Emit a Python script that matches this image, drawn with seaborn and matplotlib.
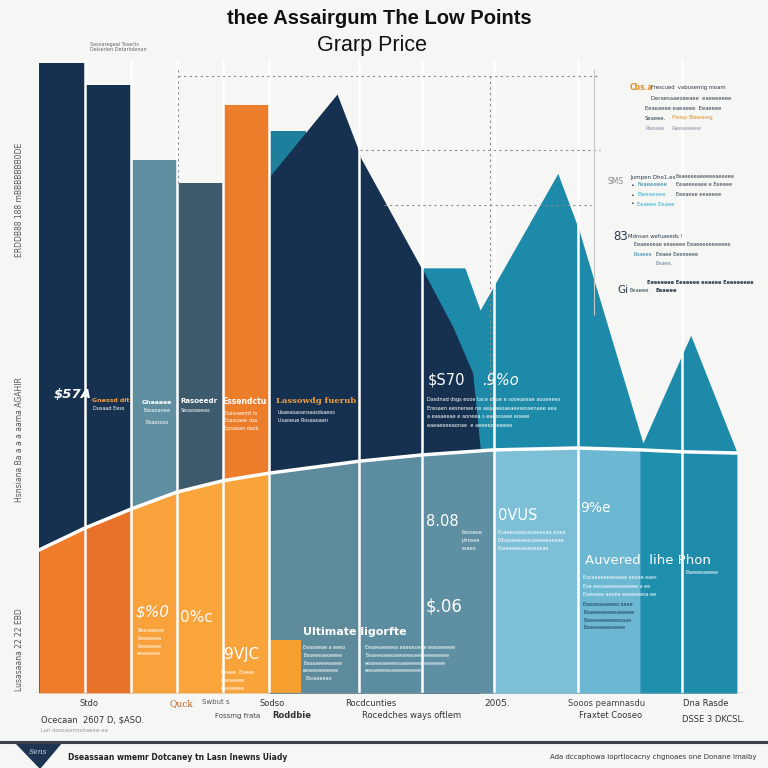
import numpy as np
import matplotlib
matplotlib.use("Agg")
import matplotlib.pyplot as plt
import seaborn as sns
from matplotlib.patches import Polygon

# ---- data ----
bar_labels = ["A", "B", "C", "D", "E"]
bar_values = [100.0, 96.5, 84.6, 81.0, 93.3]
bar_colors = ["#16314f", "#16314f", "#5f8fa0", "#3e5b6d", "#ec7d2a"]

# lower band (the curve) at the column edges
band_edges = [-0.5, 0.5, 1.5, 2.5, 3.5, 4.5, 6.46, 7.83, 9.39, 11.22, 12.57, 13.48, 14.67]
band_values = [22.7, 26.2, 29.2, 31.9, 33.7, 34.9, 36.8, 37.8, 38.6, 38.9, 38.6, 38.3, 38.1]
band_colors = ["#f07d2c", "#e8722a", "#f9a13a", "#f9a53c", "#f9a43a", "#5e8b9c",
               "#5b8c9f", "#5f8fa2", "#7cbfd6", "#6cb7d1", "#1f8fae", "#1e8bab"]
column_splits = [0.5, 1.5, 2.5, 3.5, 4.5, 6.46, 7.83, 9.39, 11.22, 13.48]

# peaks on the right
back_x = [4.5, 5.3]
back_y = [89.2, 89.2]
navy_x = [4.5, 5.98, 6.43, 6.5, 7.78, 7.85, 8.5, 8.93, 9.09]
navy_y = [81.9, 95.1, 86.5, 84.9, 67.9, 67.1, 58.1, 50.8, 39.0]
teal_x = [7.83, 8.76, 9.09, 10.78, 11.24, 12.63, 13.67, 14.67]
teal_y = [67.5, 67.5, 60.8, 82.5, 73.5, 39.7, 56.8, 38.3]

small_x = [4.5, 5.2]
small_y = [8.4, 8.4]

ref_levels = [97.9, 86.2, 77.5]

sns.set_theme(style="white")
plt.rcParams["font.family"] = ["DejaVu Sans"]

fig = plt.figure(figsize=(7.68, 7.68), dpi=100)
fig.patch.set_facecolor("#f6f6f4")
ax = fig.add_axes([35 / 768, 1 - 693 / 768, 710 / 768, 633 / 768])
ax.set_facecolor("#f6f6f4")

# back shapes
ax.fill_between(back_x, 0, back_y, color="#1d7f9b", lw=0, zorder=1)
ax.fill_between(teal_x, 0, teal_y, color="#1c8aa8", lw=0, zorder=1)
ax.fill_between(navy_x, 0, navy_y, color="#16314f", lw=0, zorder=2)

# bars
sns.barplot(x=bar_labels, y=bar_values, hue=bar_labels, palette=bar_colors,
            width=1.0, saturation=1, legend=False, ax=ax, zorder=3, linewidth=0)

# lower band
for i, c in enumerate(band_colors):
    ax.fill_between(band_edges[i:i + 2], 0, band_values[i:i + 2], color=c, lw=0, zorder=4)
ax.plot(band_edges, band_values, color="white", lw=2.5, zorder=6)
ax.fill_between(small_x, 0, small_y, color="#f7a030", lw=0, zorder=5)

for s in column_splits:
    ax.axvline(s, color="white", lw=1.8, zorder=7)

# dashed guides
dash = dict(color="#8a8a8a", lw=0.8, ls=(0, (2, 3)), zorder=8)
ax.hlines(ref_levels[0], 2.52, 11.7, **dash)
ax.hlines(ref_levels[1], 6.48, 11.7, **dash)
ax.hlines(ref_levels[2], 7.0, 11.5, **dash)
ax.vlines(2.52, 81.0, 99.0, **dash)
ax.vlines(9.3, 42.0, 98.0, **dash)
ax.vlines(11.56, 60.0, 99.0, color="#c8c8c8", lw=0.8, zorder=8)
ax.axhline(0, color="#9a9a9a", lw=1.0, zorder=8)

ax.set_xlim(-0.587, 14.85)
ax.set_ylim(0, 100.5)
ax.set_axis_off()


def t(x, y, s, **kw):
    fig.text(x / 768, 1 - y / 768, s, **kw)


# title
t(379, 18, "thee Assairgum The Low Points", ha="center", va="center",
  fontsize=14.5, fontweight="bold", color="#111111", family="Liberation Sans")
t(372, 45, "Grarp Price", ha="center", va="center",
  fontsize=15.5, color="#111111", family="Liberation Sans")
t(90, 47, "Sesoaregeal Toserts\nDelserlen Detarlolenan", fontsize=3.5, color="#666666", va="center")

# left rotated labels
t(20, 200, "ERDDB88 188 mBBBBBBB0DE", rotation=90, fontsize=5.5, color="#555555", va="center", ha="center")
t(20, 440, "Hsnsiana Ba a a a aama AGAHIR", rotation=90, fontsize=5.5, color="#555555", va="center", ha="center")
t(20, 650, "Lusasaana 22 22 EBD", rotation=90, fontsize=5.5, color="#555555", va="center", ha="center")

W = "white"
# labels on bars
t(54, 395, "$57A", fontsize=9.5, color=W, fontweight="bold", style="italic", va="center")
t(92, 400, "Gnessd dit", fontsize=4.5, color="#f0a040", fontweight="bold", va="center")
t(93, 409, "Dusaad Eess", fontsize=3.6, color=W, va="center")
t(142, 402, "Ghaaaae", fontsize=4.5, color=W, fontweight="bold", va="center")
t(144, 410, "Easaoanee", fontsize=3.6, color=W, va="center")
t(145, 422, "Eeaosoos", fontsize=3.6, color=W, va="center")
t(180, 401, "Rasoeedr", fontsize=5, color=W, fontweight="bold", va="center")
t(181, 411, "Sesaoaeeas", fontsize=3.6, color=W, va="center")
t(222, 401, "Essendctu", fontsize=5.5, color=W, fontweight="bold", va="center")
t(224, 411, "Esasoeemt ts\nEsasoaoe das\nEpsaoan dasb", fontsize=3.6, color=W, va="top", linespacing=1.6)
t(276, 401, "Lassowdg fuerub", fontsize=6, color="#f0a040", fontweight="bold", va="center", family="DejaVu Serif")
t(278, 410, "Usaeaoaoaroaasdsaeos\nUsaoeue Rosaaoaan", fontsize=3.6, color=W, va="top", linespacing=1.7)

t(428, 380, "$S70", fontsize=10.5, color=W, va="center")
t(482, 380, ".9%o", fontsize=10.5, color=W, style="italic", va="center")
t(427, 397, "Dasdnad dsgs eooe tace deoe e sooeaseae aooeeees\n"
  "Eresaen eesnenee ne aeaaaeoaeaeesessenaee aea\n"
  "a easaeeae e aoneea s eaesssaee eoeee\n"
  "eaeaeeeeaonae  e aeeeeoeeeeee", fontsize=3.6, color=W, va="top", linespacing=1.9)

t(426, 522, "8.08", fontsize=10.5, color=W, va="center")
t(498, 516, "0VUS", fontsize=10.5, color=W, va="center")
t(462, 530, "Eeoseoe\nphnsee\nesaeo", fontsize=3.6, color=W, va="top", linespacing=1.8)
t(498, 530, "Esaeeooeesaseeaeae eoea\nEdsaoeeeaeesaeeeeeeeae\nEsaeeaeeaeaoeaeae", fontsize=3.6, color=W, va="top", linespacing=1.8)
t(580, 508, "9%e", fontsize=10, color=W, va="center")
t(585, 561, "Auvered  lihe Phon", fontsize=9.5, color=W, va="center")
t(583, 575, "Easaaeeeeseaaee aeoee eaes\nEse eeoaeeeeaeeeaee a ee\nEaeaaee aeoee eaeeoeesa ee", fontsize=3.5, color=W, va="top", linespacing=1.9)
t(583, 602, "Eeeoeaeaeeeo aeae\nEeaeeeaeeeeaeeeee\nEeeeeaeeeeeeoaae\nEeaeeaeeeeaeee", fontsize=3.5, color="#1d3c58", va="top", linespacing=1.7)
t(685, 572, "Eaeeeeaeeee", fontsize=3.5, color=W, va="center")

t(426, 607, "$.06", fontsize=12, color=W, va="center")
t(303, 632, "Ultimate ligorfte", fontsize=8, color=W, fontweight="bold", va="center")
t(303, 645, "Eeaoeeae a eeeo\nEeaeeeaeoeeee\nEeaaaeeeeaeee\neeaeeaeeeeee", fontsize=3.5, color=W, va="top", linespacing=1.7)
t(365, 645, "Eeaeeaeeeea eeeaeoeae eeeaeeeee\nEeaeeeaeeoeeoeeeaeeeeeeeeeee\neeaeeeaeeeeoaeeeeeeeeeeeeee\neeeaeeeeeaeeeeeeeee", fontsize=3.5, color=W, va="top", linespacing=1.7)
t(306, 678, "Easaeeeae", fontsize=3.5, color=W, va="center")

t(136, 612, "$%0", fontsize=11, color=W, style="italic", va="center")
t(137, 628, "Beeseeeoe\nEeeaeeea\nEeeeaeee\neeeaeeee", fontsize=3.5, color=W, va="top", linespacing=1.7)
t(180, 618, "0%c", fontsize=11, color=W, va="center")
t(224, 655, "9VJC", fontsize=11, color=W, va="center")
t(221, 670, "Eeaee  Eeeee\neeeaeeee\neeeaeeee", fontsize=3.5, color=W, va="top", linespacing=1.8)

# right-hand notes
D = "#2a3a4a"
t(630, 88, "Cbs.a", fontsize=5.5, color="#e0902a", fontweight="bold", va="center")
t(651, 88, "Frescued  vabusemig moam", fontsize=3.8, color=D, va="center")
t(651, 99, "Deraesaaeoeeaee  eaeeeeeee", fontsize=3.8, color=D, va="center")
t(645, 108, "Eeaeaeee eaeaeee  Eeaeeee", fontsize=3.8, color=D, va="center")
t(645, 118, "Seaeee.", fontsize=3.8, color=D, va="center")
t(672, 118, "Feap Beeaeg", fontsize=4.5, color="#e0902a", va="center")
t(645, 128, "Rseaee", fontsize=3.8, color="#8a8aa8", va="center")
t(672, 128, "Geeaeeeee", fontsize=3.8, color="#8a8aa8", va="center")
t(608, 181, "SMS", fontsize=5.5, color="#888888", va="center")
t(630, 177, "Jumpen Dho1.es", fontsize=4, color=D, va="center")
t(676, 177, "Eeaeeeeaeeeeeaeeeee", fontsize=3.6, color=D, va="center")
t(630, 185, "\u2022", fontsize=4.5, color=D, va="center")
t(637, 185, "Feaeeeeee", fontsize=4, color="#1c7fa0", va="center")
t(676, 185, "Eeaeeeeaee e Eeeeee", fontsize=3.6, color=D, va="center")
t(630, 195, "\u2022", fontsize=4.5, color=D, va="center")
t(637, 195, "Eleeaeeee", fontsize=4, color="#30b0cc", va="center")
t(676, 195, "Eeeaeee eeaeeee", fontsize=3.6, color=D, va="center")
t(630, 204, "\u2022", fontsize=4.5, color=D, va="center")
t(637, 204, "Eeaeee Eeaee", fontsize=3.8, color="#30b0cc", va="center")
t(613, 236, "83", fontsize=8.5, color=D, va="center")
t(628, 236, "Mdnsan wefuaeeds !", fontsize=3.8, color=D, va="center")
t(634, 245, "Eeaeeeeae eeaeeee Eeaeeeeeeeeeee", fontsize=3.6, color=D, va="center")
t(634, 254, "Eeaeee", fontsize=3.6, color="#1c7fa0", va="center")
t(656, 254, "Eeaee Eeeeeeee", fontsize=3.6, color=D, va="center")
t(655, 263, "Eeaee,", fontsize=3.6, color="#6a7a9a", va="center")
t(647, 282, "Eeeeeeee Eeaeeee eeaeee Eeeeeeeee", fontsize=3.6, color=D, va="center", fontweight="bold")
t(617, 290, "Gi", fontsize=7.5, color=D, va="center")
t(630, 290, "Eeaeee", fontsize=3.8, color=D, va="center")
t(656, 290, "Eeaeee", fontsize=3.8, color=D, va="center", fontweight="bold")

# x labels
t(79, 704, "Stdo", fontsize=6, color="#333333", va="center")
t(170, 704, "Quck", fontsize=6.5, color="#c06020", va="center", family="DejaVu Serif")
t(202, 702, "Swbut s", fontsize=5, color="#555555", va="center")
t(259, 704, "Sodso", fontsize=6, color="#333333", va="center")
t(345, 704, "Rocdcunties", fontsize=6, color="#333333", va="center")
t(484, 703, "2005.", fontsize=6.5, color="#333333", va="center")
t(568, 703, "Sooos peamnasdu", fontsize=6, color="#444444", va="center")
t(683, 703, "Dna Rasde", fontsize=6, color="#333333", va="center")
t(215, 716, "Fossmg frata", fontsize=5, color="#444444", va="center")
t(272, 716, "Roddbie", fontsize=6, color="#333333", va="center", fontweight="bold")
t(362, 716, "Rocedches ways oftlem", fontsize=6, color="#333333", va="center")
t(579, 716, "Fraxtet Cooseo", fontsize=6, color="#333333", va="center")
t(41, 720, "Ocecaan  2607 D, $ASO.", fontsize=6, color="#333333", va="center")
t(682, 720, "DSSE 3 DKCSL.", fontsize=6, color="#333333", va="center")
t(41, 731, "Lori doosaomnsbaeaw ea", fontsize=3.8, color="#999999", va="center")

# footer
fig.add_artist(plt.Line2D([0, 1], [1 - 742 / 768] * 2, color="#3a3f48", lw=2.2))
fig.add_artist(Polygon([[15 / 768, 1 - 742 / 768], [62 / 768, 1 - 742 / 768], [40 / 768, 0.0]],
                       closed=True, transform=fig.transFigure, color="#1e3552"))
t(38, 752, "Sens", fontsize=5.5, color="#c8d4e0", style="italic", ha="center", va="center", family="DejaVu Serif")
t(68, 758, "Dseassaan wmemr Dotcaney tn Lasn Inewns Uiady", fontsize=5.5, color="#222222", fontweight="bold", va="center")
t(757, 757, "Ada dccaphowa Ioprtlocacny chgnoaes one Donane Imaiby", fontsize=5, color="#333333", ha="right", va="center")

fig.savefig("out.png", dpi=100, facecolor=fig.get_facecolor())
